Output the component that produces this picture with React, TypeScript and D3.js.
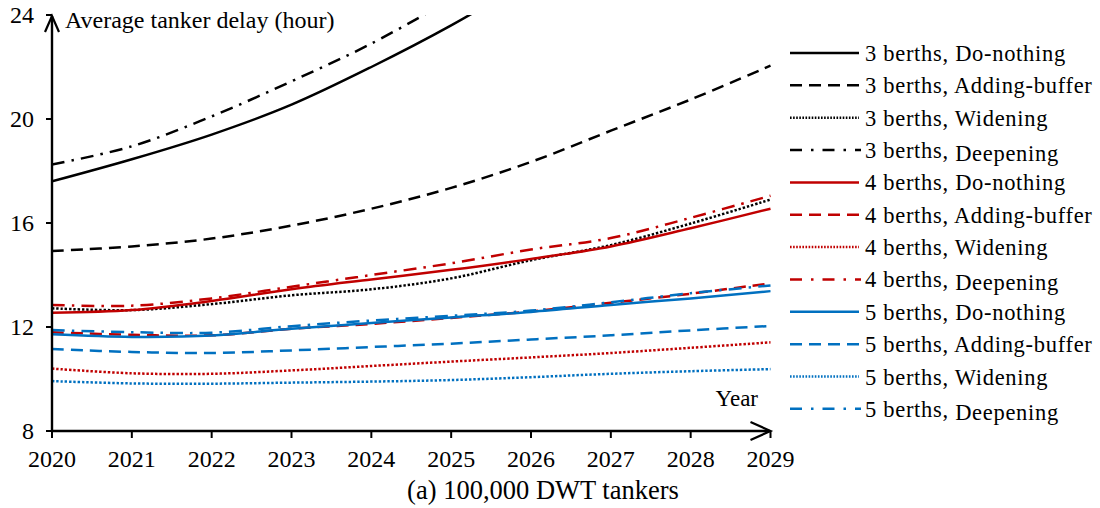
import * as d3 from "d3";

// years on the x axis
const years = [2020, 2021, 2022, 2023, 2024, 2025, 2026, 2027, 2028, 2029];
const yTicks = [8, 12, 16, 20, 24];

// average tanker delay (hour)
const b3DoNothing = [17.6, 18.45, 19.4, 20.55, 22.0, 23.6, 25.4];
const b3AddingBuffer = [14.92, 15.1, 15.4, 15.9, 16.55, 17.35, 18.35, 19.55, 20.75, 22.05];
const b3Widening = [12.72, 12.65, 12.88, 13.22, 13.45, 13.87, 14.57, 15.15, 15.98, 16.9];
const b3Deepening = [18.25, 18.95, 20.1, 21.45, 22.9, 24.6];
const b4DoNothing = [12.55, 12.65, 13.0, 13.45, 13.83, 14.2, 14.62, 15.1, 15.8, 16.55];
const b4AddingBuffer = [11.8, 11.7, 11.68, 11.93, 12.12, 12.35, 12.6, 12.93, 13.28, 13.68];
const b4Widening = [10.4, 10.22, 10.2, 10.33, 10.5, 10.67, 10.83, 11.0, 11.2, 11.41];
const b4Deepening = [12.85, 12.82, 13.1, 13.55, 14.0, 14.45, 14.98, 15.42, 16.2, 17.05];
const b5DoNothing = [11.72, 11.62, 11.67, 11.93, 12.15, 12.37, 12.58, 12.85, 13.1, 13.38];
const b5AddingBuffer = [11.15, 11.04, 11.0, 11.1, 11.23, 11.36, 11.52, 11.68, 11.87, 12.04];
const b5Widening = [9.92, 9.83, 9.82, 9.86, 9.9, 9.96, 10.07, 10.2, 10.3, 10.38];
const b5Deepening = [11.88, 11.8, 11.78, 12.03, 12.25, 12.43, 12.63, 12.95, 13.3, 13.6];

const BLACK = "#000000";
const RED = "#C00000";
const BLUE = "#0070C0";

type Style = "solid" | "dashed" | "dotted" | "dashdot";

const series: { label: string; color: string; style: Style; values: number[] }[] = [
  { label: "3 berths, |Do-nothing", color: BLACK, style: "solid", values: b3DoNothing },
  { label: "3 berths, |Adding-buffer", color: BLACK, style: "dashed", values: b3AddingBuffer },
  { label: "3 berths, |Widening", color: BLACK, style: "dotted", values: b3Widening },
  { label: "3 berths, |Deepening", color: BLACK, style: "dashdot", values: b3Deepening },
  { label: "4 berths, |Do-nothing", color: RED, style: "solid", values: b4DoNothing },
  { label: "4 berths, |Adding-buffer", color: RED, style: "dashed", values: b4AddingBuffer },
  { label: "4 berths, |Widening", color: RED, style: "dotted", values: b4Widening },
  { label: "4 berths, |Deepening", color: RED, style: "dashdot", values: b4Deepening },
  { label: "5 berths, |Do-nothing", color: BLUE, style: "solid", values: b5DoNothing },
  { label: "5 berths, |Adding-buffer", color: BLUE, style: "dashed", values: b5AddingBuffer },
  { label: "5 berths, |Widening", color: BLUE, style: "dotted", values: b5Widening },
  { label: "5 berths, |Deepening", color: BLUE, style: "dashdot", values: b5Deepening },
];

const chartDash: Record<Style, string | undefined> = {
  solid: undefined,
  dashed: "12,7",
  dotted: "2.4,1.9",
  dashdot: "13,7,2.5,7",
};
const legendDash: Record<Style, string | undefined> = {
  solid: undefined,
  dashed: "12,7",
  dotted: "1.6,1.5",
  dashdot: "12,9,2.5,9",
};

const FONT = "'Liberation Serif', 'Times New Roman', serif";

export default function App() {
  const width = 1100;
  const height = 508;

  const x = d3.scaleLinear().domain([2020, 2029]).range([52, 770.5]);
  const y = d3.scaleLinear().domain([8, 24]).range([431, 15]);

  const line = d3
    .line<number>()
    .x((_, i) => x(years[i]))
    .y((d) => y(d))
    .curve(d3.curveCatmullRom.alpha(0.5));

  const x0 = x(2020);
  const xEnd = x(2029);
  const yBase = y(8);
  const yTop = y(24);

  const legendX = 790;
  const legendY0 = 53;
  const legendStep = 32.35;

  return (
    <svg
      width={width}
      height={height}
      style={{ position: "absolute", left: 0, top: 0, background: "#fff" }}
      fontFamily={FONT}
    >
      <defs>
        <clipPath id="plot">
          <rect x={x0} y={yTop} width={xEnd - x0 + 10} height={yBase - yTop} />
        </clipPath>
      </defs>

      {/* lines */}
      <g clipPath="url(#plot)">
        {series.map((s) => (
          <path
            key={s.label}
            d={line(s.values) || ""}
            fill="none"
            stroke={s.color}
            strokeWidth={2.5}
            strokeDasharray={chartDash[s.style]}
          />
        ))}
      </g>

      {/* y axis */}
      <line x1={x0} x2={x0} y1={yBase + 1} y2={yTop + 1} stroke="#000" strokeWidth={2.4} />
      <path
        d={`M${x0 - 7},${yTop + 17} L${x0},${yTop + 1} L${x0 + 7},${yTop + 17}`}
        fill="none"
        stroke="#000"
        strokeWidth={2.2}
      />
      {yTicks.map((t) => (
        <g key={t}>
          <line x1={x0 - 6} x2={x0} y1={y(t)} y2={y(t)} stroke="#000" strokeWidth={2} />
          <text x={34} y={y(t) + 8} textAnchor="end" fontSize={24}>
            {t}
          </text>
        </g>
      ))}
      <text x={65} y={28} fontSize={24}>
        Average tanker delay (hour)
      </text>

      {/* x axis */}
      <line x1={x0 - 1} x2={xEnd - 1} y1={yBase} y2={yBase} stroke="#000" strokeWidth={2.4} />
      <path
        d={`M${xEnd - 20},${yBase - 9} L${xEnd},${yBase} L${xEnd - 20},${yBase + 9}`}
        fill="none"
        stroke="#000"
        strokeWidth={2.2}
      />
      {years.map((yr) => (
        <g key={yr}>
          <line x1={x(yr)} x2={x(yr)} y1={yBase} y2={yBase + 7} stroke="#000" strokeWidth={2} />
          <text x={x(yr)} y={467} textAnchor="middle" fontSize={24}>
            {yr}
          </text>
        </g>
      ))}
      <text x={758} y={406} textAnchor="end" fontSize={23}>
        Year
      </text>
      <text x={543} y={499} textAnchor="middle" fontSize={26.5}>
        (a) 100,000 DWT tankers
      </text>

      {/* legend */}
      {series.map((s, i) => {
        const cy = legendY0 + i * legendStep;
        const [head, tail] = s.label.split("|");
        const lowered = s.style === "dashdot";
        return (
          <g key={s.label}>
            <line
              x1={legendX}
              x2={legendX + (lowered ? 71 : 69)}
              y1={cy}
              y2={cy}
              stroke={s.color}
              strokeWidth={2.5}
              strokeDasharray={legendDash[s.style]}
            />
            <text x={865} y={cy + 8} fontSize={22.5} letterSpacing={0.7}>
              {head}
              <tspan dy={lowered ? 3 : 0}>{tail}</tspan>
            </text>
          </g>
        );
      })}
    </svg>
  );
}
